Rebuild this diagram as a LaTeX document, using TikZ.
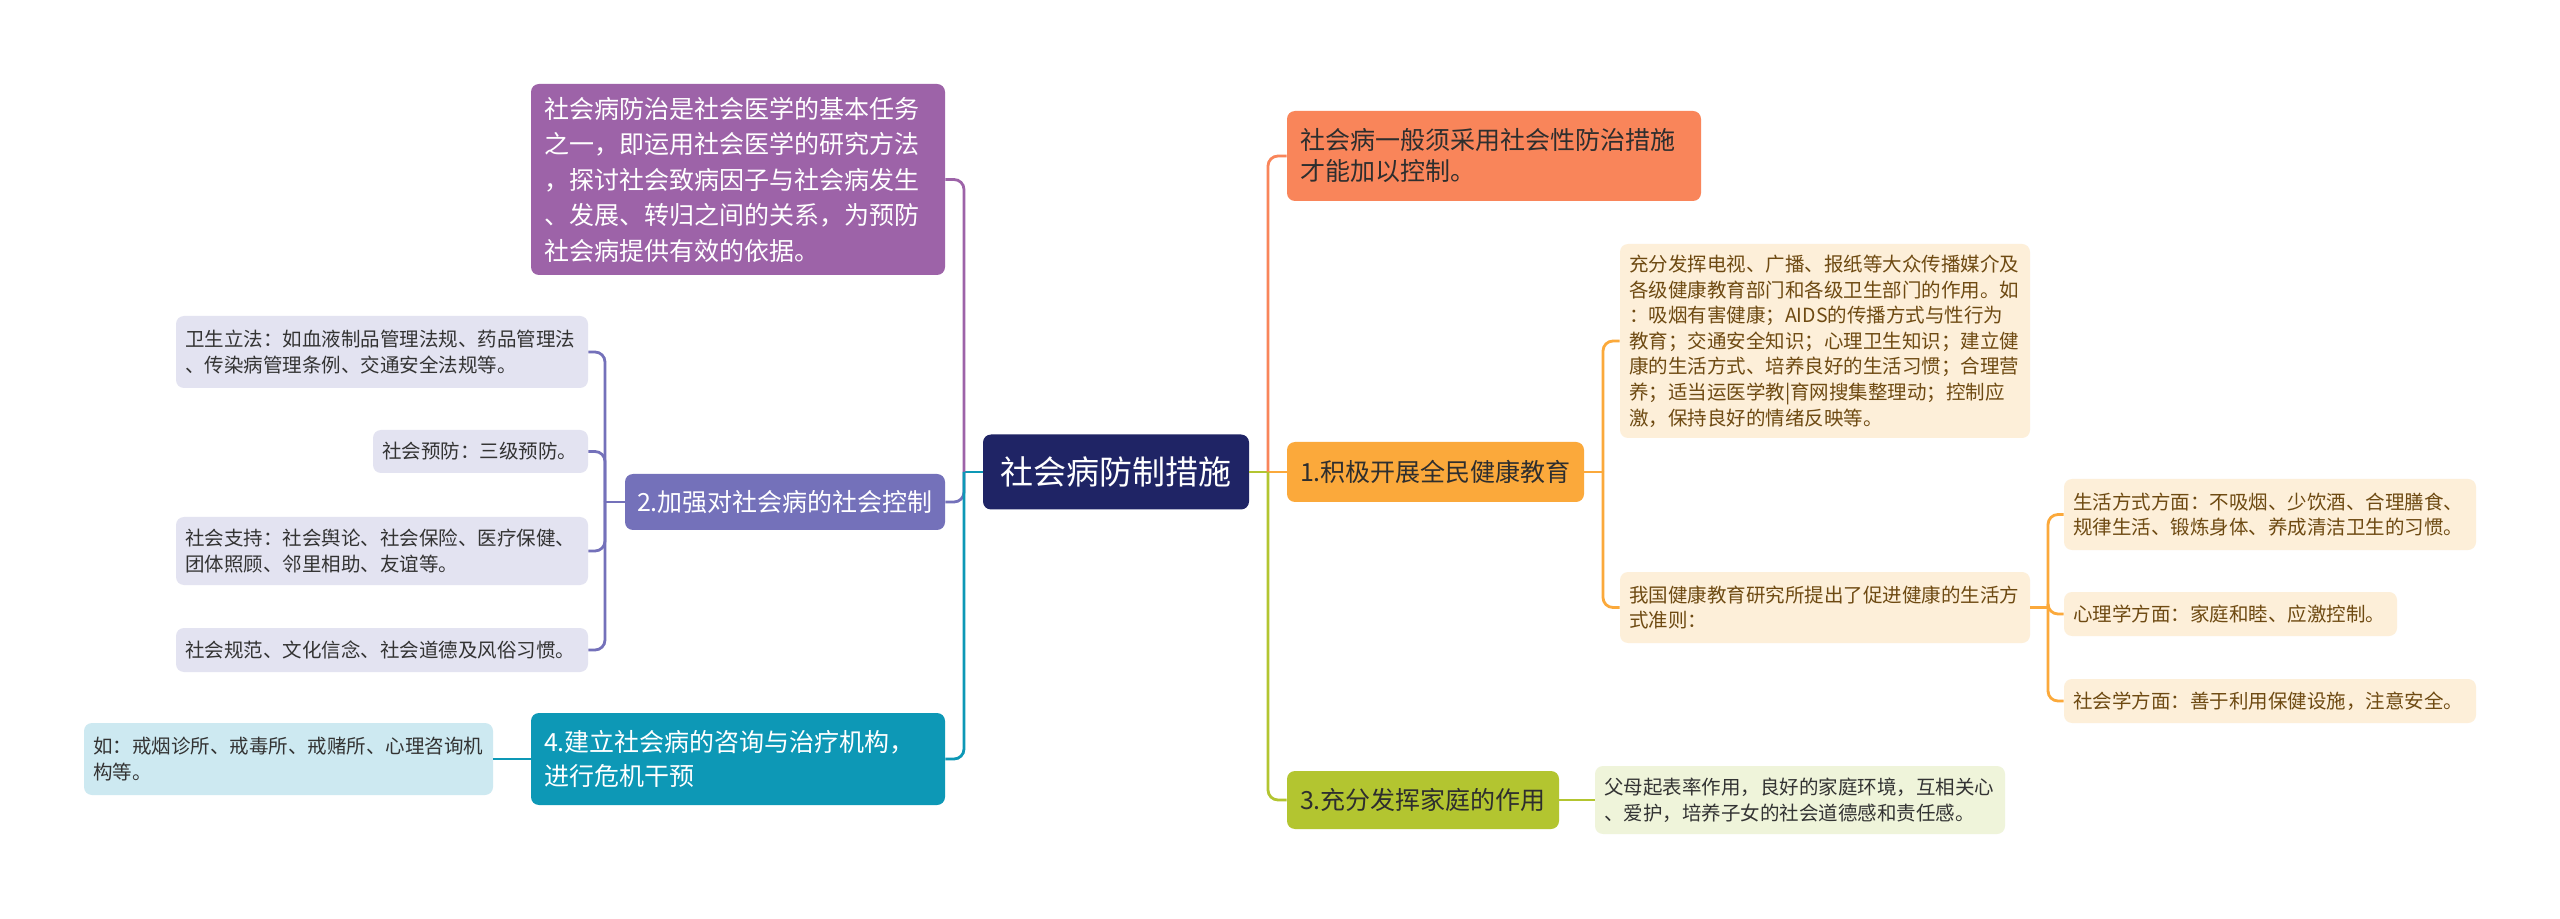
\documentclass[tikz,border=0pt]{standalone}
\usepackage{fontspec}
\setmainfont{Noto Sans CJK SC}
\definecolor{rootc}{HTML}{1F2465}
\definecolor{purpc}{HTML}{9D63A8}
\definecolor{slatec}{HTML}{7471BA}
\definecolor{tealc}{HTML}{0D98B6}
\definecolor{lblue}{HTML}{CDE9F1}
\definecolor{lav}{HTML}{E3E3F1}
\definecolor{orgc}{HTML}{F9855A}
\definecolor{yelc}{HTML}{FBA93B}
\definecolor{cream}{HTML}{FDEFD9}
\definecolor{limec}{HTML}{B3C530}
\definecolor{llime}{HTML}{EFF4DA}
\definecolor{browntxt}{HTML}{6E4A12}
\definecolor{darktxt}{HTML}{2E2E2E}
\definecolor{greytxt}{HTML}{333333}
\tikzset{
  base/.style={rounded corners=4pt, inner ysep=0pt, align=left, anchor=center},
  smallbox/.style={base, font=\fontsize{9.75pt}{12.8pt}\selectfont, inner xsep=4.5pt},
  midbox/.style={base, font=\fontsize{12.5pt}{15.5pt}\selectfont, inner xsep=6.5pt},
  conn/.style={line width=1.4pt},
  rc/.style={conn, rounded corners=5pt},
}
\begin{document}
\begin{tikzpicture}[x=0.5pt, y=-0.5pt]
\useasboundingbox[fill=white] (0,0) rectangle (2560,919);

% root
\node[base, fill=rootc, text=white, align=center, minimum width=133pt, minimum height=37.5pt,
  font=\fontsize{16.5pt}{18pt}\selectfont] (root) at (1116,472) {社会病防制措施};

% left side
\node[base, fill=purpc, text=white, font=\fontsize{12.5pt}{17.75pt}\selectfont, inner xsep=6.5pt,
  text width=194pt, minimum height=95.5pt] (P) at (738,179.5)
  {社会病防治是社会医学的基本任务\\之一，即运用社会医学的研究方法\\，探讨社会致病因子与社会病发生\\、发展、转归之间的关系，为预防\\社会病提供有效的依据。};

\node[base, fill=slatec, text=white, align=center, font=\fontsize{12.5pt}{15.5pt}\selectfont,
  minimum width=160pt, minimum height=28pt] (B2) at (785,502) {2.加强对社会病的社会控制};

\node[midbox, fill=tealc, text=white, text width=194pt, minimum height=46pt,
  font=\fontsize{12.5pt}{17pt}\selectfont] (B4) at (738,759)
  {4.建立社会病的咨询与治疗机构，\\进行危机干预};

\node[smallbox, fill=lblue, text=greytxt, text width=195.5pt, minimum height=36pt] (L4a) at (288.5,759)
  {如：戒烟诊所、戒毒所、戒赌所、心理咨询机\\构等。};

\node[smallbox, fill=lav, text=greytxt, text width=197pt, minimum height=36pt] (L2a) at (382,352)
  {卫生立法：如血液制品管理法规、药品管理法\\、传染病管理条例、交通安全法规等。};
\node[smallbox, fill=lav, text=greytxt, text width=98.5pt, minimum height=21.5pt] (L2b) at (480.5,451.5)
  {社会预防：三级预防。};
\node[smallbox, fill=lav, text=greytxt, text width=197pt, minimum height=34pt] (L2c) at (382,551)
  {社会支持：社会舆论、社会保险、医疗保健、\\团体照顾、邻里相助、友谊等。};
\node[smallbox, fill=lav, text=greytxt, text width=197pt, minimum height=22pt] (L2d) at (382,650)
  {社会规范、文化信念、社会道德及风俗习惯。};

% right side
\node[midbox, fill=orgc, text=darktxt, text width=194pt, minimum height=45pt] (O) at (1494,156)
  {社会病一般须采用社会性防治措施\\才能加以控制。};

\node[base, fill=yelc, text=darktxt, align=center, font=\fontsize{12.5pt}{15.5pt}\selectfont,
  minimum width=148.5pt, minimum height=30pt] (B1) at (1435.5,472) {1.积极开展全民健康教育};

\node[smallbox, fill=cream, text=browntxt, text width=196pt, minimum height=97pt] (C1a) at (1825,341)
  {充分发挥电视、广播、报纸等大众传播媒介及\\各级健康教育部门和各级卫生部门的作用。如\\：吸烟有害健康；AIDS的传播方式与性行为\\教育；交通安全知识；心理卫生知识；建立健\\康的生活方式、培养良好的生活习惯；合理营\\养；适当运医学教|育网搜集整理动；控制应\\激，保持良好的情绪反映等。};
\node[smallbox, fill=cream, text=browntxt, text width=196pt, minimum height=35.5pt] (C1b) at (1825,607.5)
  {我国健康教育研究所提出了促进健康的生活方\\式准则：};

\node[smallbox, fill=cream, text=browntxt, text width=197pt, minimum height=35.5pt] (D1) at (2270,514.5)
  {生活方式方面：不吸烟、少饮酒、合理膳食、\\规律生活、锻炼身体、养成清洁卫生的习惯。};
\node[smallbox, fill=cream, text=browntxt, text width=157.5pt, minimum height=22pt] (D2) at (2230.5,614)
  {心理学方面：家庭和睦、应激控制。};
\node[smallbox, fill=cream, text=browntxt, text width=197pt, minimum height=22pt] (D3) at (2270,701)
  {社会学方面：善于利用保健设施，注意安全。};

\node[base, fill=limec, text=darktxt, align=center, font=\fontsize{12.5pt}{15.5pt}\selectfont,
  minimum width=136pt, minimum height=29pt] (B3) at (1423,800) {3.充分发挥家庭的作用};
\node[smallbox, fill=llime, text=greytxt, text width=196pt, minimum height=34pt] (C3) at (1800,800)
  {父母起表率作用，良好的家庭环境，互相关心\\、爱护，培养子女的社会道德感和责任感。};

% junction coordinates
\coordinate (tl) at (964,472);
\coordinate (tr) at (1268,472);
\coordinate (t2) at (605,502);
\coordinate (t1) at (1603,472);
\coordinate (t1b) at (2048,607.5);

% left connectors
\draw[conn, tealc] (root.west) -- (tl);
\draw[rc, purpc] (tl) |- (P.east);
\draw[rc, slatec] (tl) |- (B2.east);
\draw[rc, tealc] (tl) |- (B4.east);
\draw[conn, slatec] (B2.west) -- (t2);
\draw[rc, slatec] (t2) |- (L2a.east);
\draw[rc, slatec] (t2) |- (L2b.east);
\draw[rc, slatec] (t2) |- (L2c.east);
\draw[rc, slatec] (t2) |- (L2d.east);
\draw[conn, tealc] (B4.west) -- (L4a.east);

% right connectors
\draw[conn, limec] (root.east) -- (tr);
\draw[rc, orgc] (tr) |- (O.west);
\draw[conn, yelc] (tr) -- (B1.west);
\draw[rc, limec] (tr) |- (B3.west);
\draw[conn, yelc] (B1.east) -- (t1);
\draw[rc, yelc] (t1) |- (C1a.west);
\draw[rc, yelc] (t1) |- (C1b.west);
\draw[conn, yelc] (C1b.east) -- (t1b);
\draw[rc, yelc] (t1b) |- (D1.west);
\draw[rc, yelc] (t1b) |- (D2.west);
\draw[rc, yelc] (t1b) |- (D3.west);
\draw[conn, limec] (B3.east) -- (C3.west);
\end{tikzpicture}
\end{document}
